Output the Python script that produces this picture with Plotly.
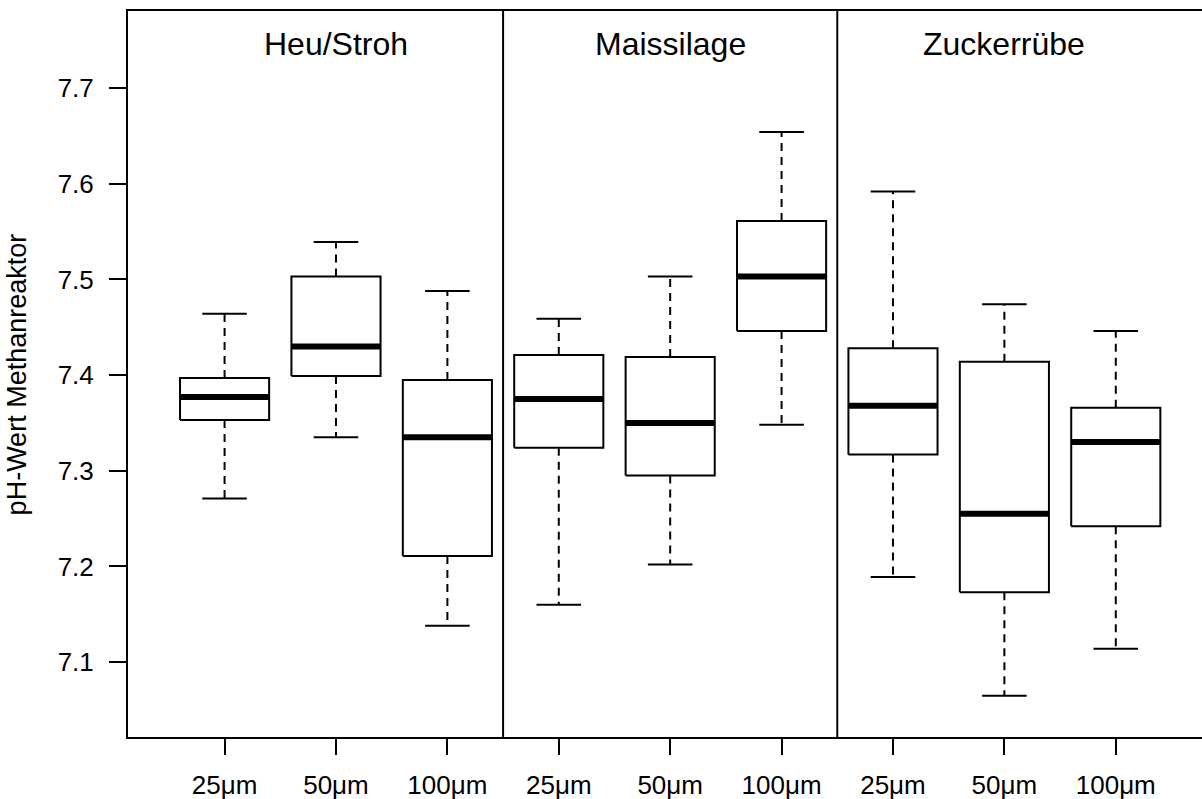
import plotly.graph_objects as go

# ---- data ----
groups = ["Heu/Stroh", "Maissilage", "Zuckerrübe"]
sizes = ["25μm", "50μm", "100μm"]
tick_labels = sizes * len(groups)

lower_whisker = [7.271, 7.335, 7.138, 7.160, 7.202, 7.348, 7.189, 7.065, 7.114]
q1            = [7.353, 7.399, 7.211, 7.324, 7.295, 7.446, 7.317, 7.173, 7.242]
median        = [7.377, 7.430, 7.335, 7.375, 7.350, 7.503, 7.368, 7.255, 7.330]
q3            = [7.397, 7.503, 7.395, 7.421, 7.419, 7.561, 7.428, 7.414, 7.366]
upper_whisker = [7.464, 7.539, 7.488, 7.459, 7.503, 7.654, 7.592, 7.474, 7.446]

y_ticks = [7.1, 7.2, 7.3, 7.4, 7.5, 7.6, 7.7]

# ---- geometry derived from data ----
n = len(median)
pos = list(range(1, n + 1))
half = 0.4      # box half width (R boxwex 0.8)
cap = 0.2       # staple half width

bx, by, mx, my, wx, wy, cx, cy = [], [], [], [], [], [], [], []
for p, lo, a, m, b, hi in zip(pos, lower_whisker, q1, median, q3, upper_whisker):
    bx += [p - half, p + half, p + half, p - half, p - half, None]
    by += [a, a, b, b, a, None]
    mx += [p - half, p + half, None]
    my += [m, m, None]
    wx += [p, p, None, p, p, None]
    wy += [b, hi, None, a, lo, None]
    cx += [p - cap, p + cap, None, p - cap, p + cap, None]
    cy += [hi, hi, None, lo, lo, None]

FONT = "Liberation Sans, Arial, Helvetica, sans-serif"

fig = go.Figure()
fig.add_trace(go.Scatter(x=wx, y=wy, mode="lines", hoverinfo="skip",
                         line=dict(color="black", width=2, dash="8px,6px")))
fig.add_trace(go.Scatter(x=cx, y=cy, mode="lines", hoverinfo="skip",
                         line=dict(color="black", width=2)))
fig.add_trace(go.Scatter(x=bx, y=by, mode="lines", hoverinfo="skip", fill="none",
                         line=dict(color="black", width=2)))
fig.add_trace(go.Scatter(x=mx, y=my, mode="lines", hoverinfo="skip",
                         line=dict(color="black", width=6)))

# group separators and titles
per = len(sizes)
for gi, g in enumerate(groups):
    if gi > 0:
        sep = gi * per + 0.5
        fig.add_shape(type="line", xref="x", yref="paper", x0=sep, x1=sep, y0=0, y1=1,
                      line=dict(color="black", width=2))
    fig.add_annotation(x=gi * per + (per + 1) / 2, y=7.746, xref="x", yref="y",
                       text=g, showarrow=False, xanchor="center", yanchor="middle",
                       font=dict(family=FONT, size=32, color="black"))

fig.add_annotation(x=-0.103, y=0.5, xref="paper", yref="paper",
                   text="pH-Wert Methanreaktor", textangle=-90, showarrow=False,
                   xanchor="center", yanchor="middle",
                   font=dict(family=FONT, size=27, color="black"))

fig.update_layout(
    width=1202, height=799,
    margin=dict(l=128, r=0, t=11, b=62, pad=0),
    paper_bgcolor="white", plot_bgcolor="white",
    showlegend=False,
    font=dict(family=FONT, color="black"),
    xaxis=dict(range=[0.133, 9.774], tickmode="array", tickvals=pos, ticktext=tick_labels,
               ticks="outside", ticklen=16, tickwidth=2, tickcolor="black",
               ticklabelstandoff=8,
               showline=True, linecolor="black", linewidth=2, mirror=True,
               showgrid=False, zeroline=False,
               tickfont=dict(family=FONT, size=26, color="black")),
    yaxis=dict(range=[7.0218, 7.7805], tickmode="array", tickvals=y_ticks,
               ticktext=[f"{v:.1f}" for v in y_ticks],
               ticks="outside", ticklen=17, tickwidth=2, tickcolor="black",
               ticklabelstandoff=10,
               showline=True, linecolor="black", linewidth=2, mirror=False,
               showgrid=False, zeroline=False,
               tickfont=dict(family=FONT, size=26, color="black")),
)

fig.write_html("out.html")
